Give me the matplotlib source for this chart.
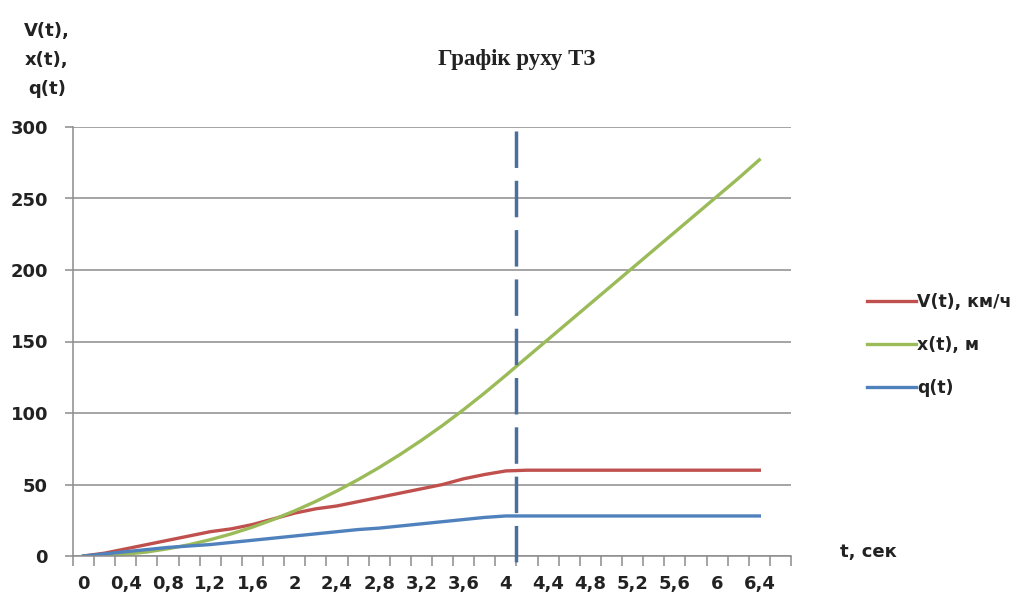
import matplotlib.pyplot as plt
from matplotlib.ticker import FixedLocator, NullFormatter

plt.rcParams['font.family'] = ['DejaVu Sans']

# t, sec (category axis, step 0.2)
t = [0, 0.2, 0.4, 0.6, 0.8, 1.0, 1.2, 1.4, 1.6, 1.8, 2.0, 2.2, 2.4, 2.6, 2.8, 3.0,
     3.2, 3.4, 3.6, 3.8, 4.0, 4.2, 4.4, 4.6, 4.8, 5.0, 5.2, 5.4, 5.6, 5.8, 6.0, 6.2, 6.4]
v = [0, 2, 5, 8, 11, 14, 17, 19, 22, 26, 30, 33, 35, 38, 41, 44,
     47, 50, 54, 57, 59.5, 60, 60, 60, 60, 60, 60, 60, 60, 60, 60, 60, 60]
x = [0, 0.3, 1.3, 2.8, 5.1, 7.9, 11.4, 15.5, 20.2, 25.6, 31.6, 38.2, 45.5, 53.4, 61.9, 71.1,
     80.9, 91.3, 102.4, 114.1, 126.4, 139, 151.5, 164, 176.5, 189, 201.5, 214, 226.5, 239, 251.5, 264, 277]
q = [0, 1.5, 3, 4.5, 6, 7, 8, 9.5, 11, 12.5, 14, 15.5, 17, 18.5, 19.5, 21,
     22.5, 24, 25.5, 27, 28, 28, 28, 28, 28, 28, 28, 28, 28, 28, 28, 28, 28]
t_labels = [0, 0.4, 0.8, 1.2, 1.6, 2, 2.4, 2.8, 3.2, 3.6, 4, 4.4, 4.8, 5.2, 5.6, 6, 6.4]
t_marker = 4.1

fig = plt.figure(figsize=(10.29, 5.98), dpi=100)
ax = fig.add_axes([73/1029, 1-556/598, 718/1029, 429/598])

ax.plot(t, v, color='#c0504d', lw=2.4, label='V(t), км/ч')
ax.plot(t, x, color='#9bbb59', lw=2.4, label='x(t), м')
ax.plot(t, q, color='#4f81bd', lw=2.4, label='q(t)')

# vertical dashed marker
ax.plot([t_marker, t_marker], [297, -5], color='#4a6f9c', lw=2.5,
        dashes=(10.5, 3.7), clip_on=False, zorder=5)

ax.set_xlim(-0.1, 6.7)
ax.set_ylim(0, 300)
ax.set_yticks(range(0, 301, 50))
ax.yaxis.grid(True, color='#8c8c8c', lw=1.1)
ax.set_axisbelow(True)

# category boundaries get the tick marks, labels sit in between
bounds = [-0.1 + 0.2 * k for k in range(35)]
ax.xaxis.set_minor_locator(FixedLocator(bounds))
ax.xaxis.set_minor_formatter(NullFormatter())
ax.set_xticks(t_labels)
ax.set_xticklabels([str(s).replace('.', ',') for s in t_labels])
ax.tick_params(axis='x', which='major', length=0, pad=14)
ax.tick_params(axis='x', which='minor', length=7, color='#8c8c8c', width=1.1)
ax.tick_params(axis='y', length=6, color='#8c8c8c', width=1.1, pad=12)
for lab in ax.get_xticklabels() + ax.get_yticklabels():
    lab.set_fontsize(13)
    lab.set_fontweight('bold')
    lab.set_color('#222222')

for s in ['top', 'right']:
    ax.spines[s].set_visible(False)
for s in ['left', 'bottom']:
    ax.spines[s].set_color('#8c8c8c')
    ax.spines[s].set_linewidth(1.1)

fig.text(517/1029, 1-60/598, 'Графік руху ТЗ', family='Liberation Serif',
         fontweight='bold', fontsize=16.5, ha='center', va='center', color='#222222')
fig.text(47/1029, 1-60/598, 'V(t),\nx(t),\nq(t)', fontsize=13, fontweight='bold',
         ha='center', va='center', linespacing=1.8, color='#222222')
fig.text(868/1029, 1-552/598, 't, сек', fontsize=13, fontweight='bold',
         ha='center', va='center', color='#222222')

leg = ax.legend(loc='center left', bbox_to_anchor=(867/1029, 1-345/598),
                bbox_transform=fig.transFigure, frameon=False, fontsize=12.5,
                handlelength=2.8, handletextpad=0.1, labelspacing=1.45,
                borderpad=0, borderaxespad=0)
for txt in leg.get_texts():
    txt.set_fontweight('bold')
    txt.set_color('#222222')

fig.savefig('out.png', dpi=100)
